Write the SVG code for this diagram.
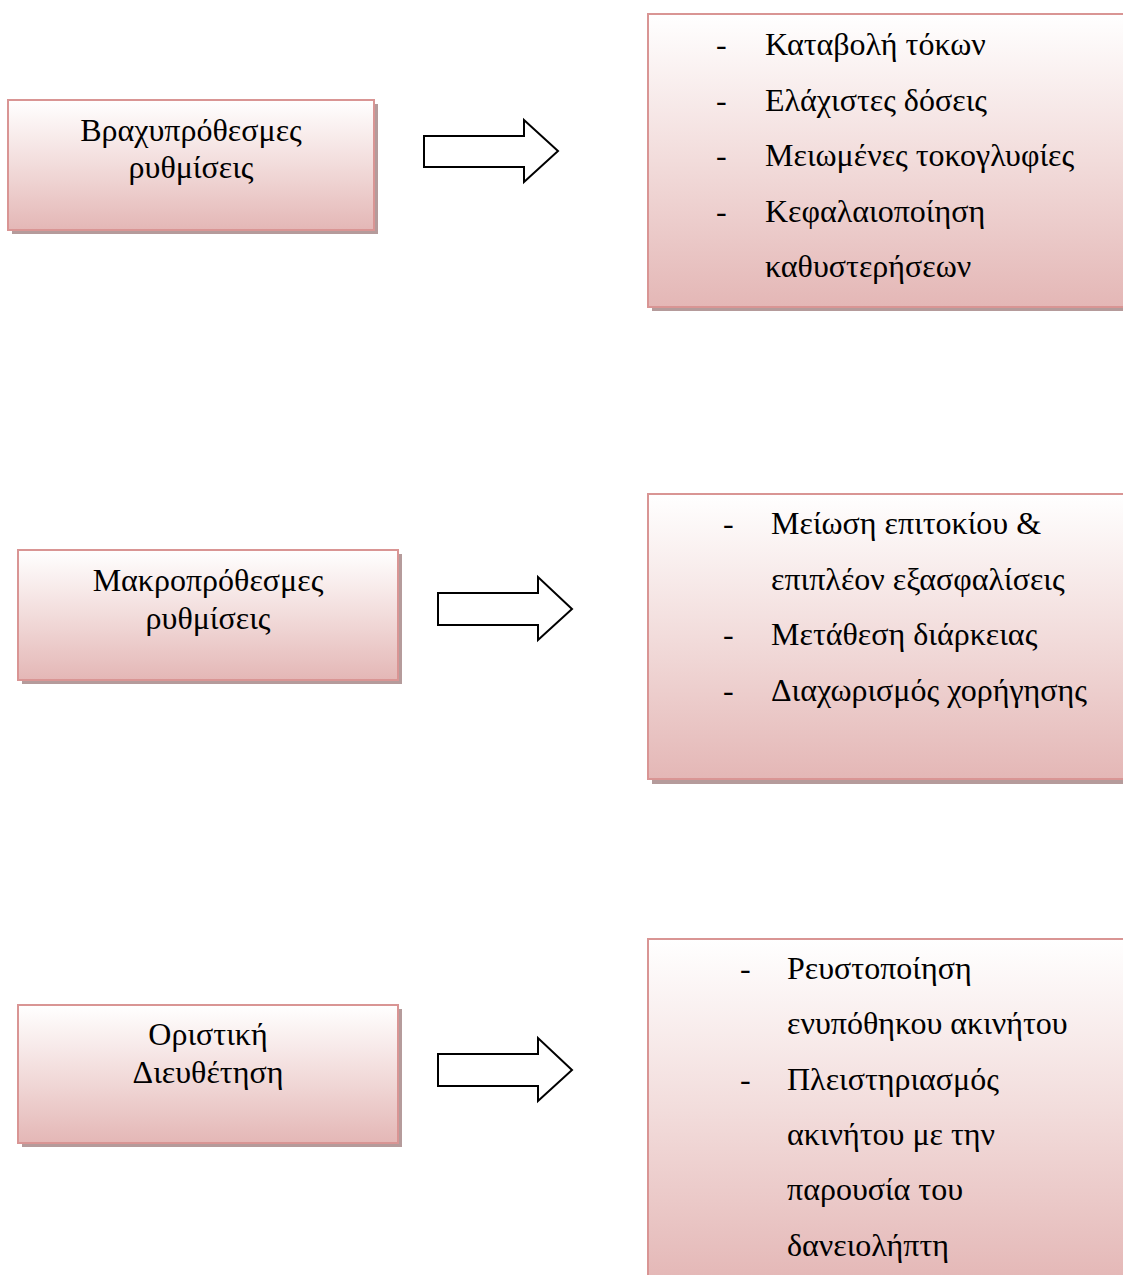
<svg xmlns="http://www.w3.org/2000/svg" width="1123" height="1275" viewBox="0 0 1123 1275">
<defs>
<linearGradient id="g" x1="0" y1="0" x2="0" y2="1">
<stop offset="0" stop-color="#ffffff"/>
<stop offset="0.5" stop-color="#f2dcdb"/>
<stop offset="1" stop-color="#e4b7b6"/>
</linearGradient>
</defs>
<style>
.box{fill:url(#g);stroke:#d99594;stroke-width:2}
.sh{fill:#b59b9b}
.t{font-family:"Liberation Serif","DejaVu Serif",serif;font-size:32px;fill:#000}
.c{text-anchor:middle}
.arr{fill:#fff;stroke:#000;stroke-width:2;stroke-linejoin:miter}
</style>
<rect width="1123" height="1275" fill="#fff"/>
<g id="n1">
<rect class="sh" x="12" y="104" width="366" height="130"/>
<rect class="box" x="8" y="100" width="366" height="130"/>
<text class="t c" x="191" y="141">Βραχυπρόθεσμες</text>
<text class="t c" x="191" y="178">ρυθμίσεις</text>
</g>
<g id="r1">
<rect class="sh" x="652" y="18" width="475" height="293"/>
<rect class="box" x="648" y="14" width="480" height="293"/>
<text class="t" x="716" y="55">-</text><text class="t" x="765" y="55">Καταβολή τόκων</text>
<text class="t" x="716" y="111">-</text><text class="t" x="765" y="111">Ελάχιστες δόσεις</text>
<text class="t" x="716" y="166">-</text><text class="t" x="765" y="166">Μειωμένες τοκογλυφίες</text>
<text class="t" x="716" y="222">-</text><text class="t" x="765" y="222">Κεφαλαιοποίηση</text>
<text class="t" x="765" y="277">καθυστερήσεων</text>
</g>
<g id="n2">
<rect class="sh" x="22" y="554" width="380" height="130"/>
<rect class="box" x="18" y="550" width="380" height="130"/>
<text class="t c" x="208" y="591">Μακροπρόθεσμες</text>
<text class="t c" x="208" y="629">ρυθμίσεις</text>
</g>
<g id="r2">
<rect class="sh" x="652" y="498" width="475" height="286"/>
<rect class="box" x="648" y="494" width="480" height="285"/>
<text class="t" x="723" y="534">-</text><text class="t" x="771" y="534">Μείωση επιτοκίου &amp;</text>
<text class="t" x="771" y="590">επιπλέον εξασφαλίσεις</text>
<text class="t" x="723" y="645">-</text><text class="t" x="771" y="645">Μετάθεση διάρκειας</text>
<text class="t" x="723" y="701">-</text><text class="t" x="771" y="701">Διαχωρισμός χορήγησης</text>
</g>
<g id="n3">
<rect class="sh" x="22" y="1009" width="380" height="138"/>
<rect class="box" x="18" y="1005" width="380" height="138"/>
<text class="t c" x="208" y="1045">Οριστική</text>
<text class="t c" x="208" y="1083">Διευθέτηση</text>
</g>
<g id="r3">
<rect class="sh" x="652" y="943" width="475" height="340"/>
<rect class="box" x="648" y="939" width="480" height="345"/>
<text class="t" x="740" y="979">-</text><text class="t" x="787" y="979">Ρευστοποίηση</text>
<text class="t" x="787" y="1034">ενυπόθηκου ακινήτου</text>
<text class="t" x="740" y="1090">-</text><text class="t" x="787" y="1090">Πλειστηριασμός</text>
<text class="t" x="787" y="1145">ακινήτου με την</text>
<text class="t" x="787" y="1200">παρουσία του</text>
<text class="t" x="787" y="1256">δανειολήπτη</text>
</g>
<g id="connectors">
<polygon class="arr" points="424,136 524,136 524,120 558,151 524,182 524,167 424,167"/>
<polygon class="arr" points="438,593 538,593 538,577 572,609 538,640 538,625 438,625"/>
<polygon class="arr" points="438,1054 538,1054 538,1038 572,1070 538,1101 538,1086 438,1086"/>
</g>
</svg>
